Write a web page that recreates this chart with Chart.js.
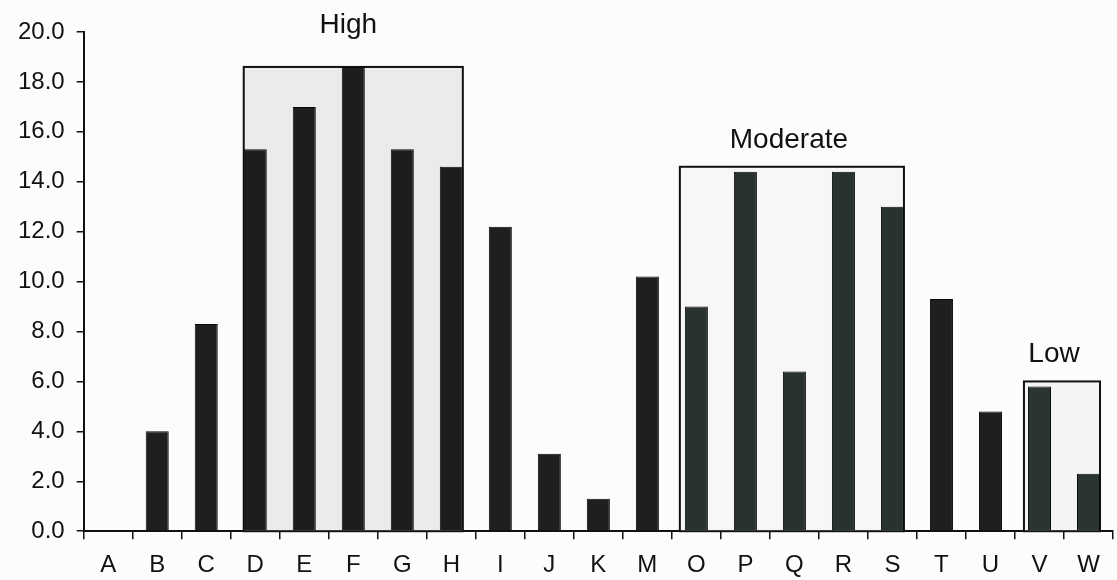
<!DOCTYPE html>
<html>
<head>
<meta charset="utf-8">
<script src="https://cdn.jsdelivr.net/npm/chart.js@4.4.1/dist/chart.umd.min.js"></script>
<style>
  html, body { margin: 0; padding: 0; background: #fcfcfc; overflow: hidden; }
  #wrap { width: 1117px; height: 580px; overflow: hidden; }
</style>
</head>
<body>
<div id="wrap"><canvas id="chart" width="1117" height="592"></canvas></div>
<script>
// Categories along the x axis and the bar value for each
const categories = ['A','B','C','D','E','F','G','H','I','J','K','M','O','P','Q','R','S','T','U','V','W'];
const values = [0, 4.0, 8.3, 15.3, 17.0, 18.6, 15.3, 14.6, 12.2, 3.1, 1.3, 10.2, 9.0, 14.4, 6.4, 14.4, 13.0, 9.3, 4.8, 5.8, 2.3];

// Value axis range and tick spacing
const yMin = 0;
const yMax = 20;
const yStep = 2;

// Outlined groups: label, first and last category, and box height
const groupLabels = ['High', 'Moderate', 'Low'];
const groupFirst = ['D', 'O', 'V'];
const groupLast = ['H', 'S', 'W'];
const groupTop = [18.6, 14.6, 6.0];

// Look of each group box
const groupStyle = [
  { fill: '#ebebeb', bar: '#1d1d1d', inset: 0, labelGap: 42, labelShift: -5 },
  { fill: '#f7f7f7', bar: '#28322e', inset: 5, labelGap: 27, labelShift: -3 },
  { fill: '#f4f4f4', bar: '#2a3430', inset: 4, labelGap: 27, labelShift: -8 }
];
const plainBar = '#1f1f1f';
const ink = '#111111';
const FONT = '"Liberation Sans", Arial, sans-serif';

// Bar colours follow group membership
const barColors = categories.map((c, i) => {
  let col = plainBar;
  groupLabels.forEach((g, k) => {
    const a = categories.indexOf(groupFirst[k]);
    const b = categories.indexOf(groupLast[k]);
    if (i >= a && i <= b) col = groupStyle[k].bar;
  });
  return col;
});

// Draws the group rectangles behind the bars and their captions above
const groupBoxes = {
  id: 'groupBoxes',
  beforeDatasetsDraw(chart) {
    const { ctx, scales: { y } } = chart;
    const bars = chart.getDatasetMeta(0).data;
    groupLabels.forEach((name, g) => {
      const st = groupStyle[g];
      const i0 = categories.indexOf(groupFirst[g]);
      const i1 = categories.indexOf(groupLast[g]);
      const left = bars[i0].x - bars[i0].width / 2 - st.inset;
      const right = bars[i1].x + bars[i1].width / 2;
      const top = y.getPixelForValue(groupTop[g]);
      const bottom = y.getPixelForValue(yMin);
      ctx.save();
      ctx.fillStyle = st.fill;
      ctx.fillRect(left, top, right - left, bottom - top);
      ctx.lineWidth = 2;
      ctx.strokeStyle = ink;
      ctx.strokeRect(left, top, right - left, bottom - top);
      ctx.fillStyle = ink;
      ctx.font = '28px ' + FONT;
      ctx.textAlign = 'center';
      ctx.textBaseline = 'middle';
      ctx.fillText(name, (left + right) / 2 + st.labelShift, top - st.labelGap);
      ctx.restore();
    });
  }
};

new Chart(document.getElementById('chart'), {
  type: 'bar',
  data: {
    labels: categories,
    datasets: [{
      data: values,
      backgroundColor: barColors,
      borderColor: '#0a0a0a',
      borderWidth: 1,
      barPercentage: 0.47,
      categoryPercentage: 1.0
    }]
  },
  plugins: [groupBoxes],
  options: {
    responsive: false,
    animation: false,
    devicePixelRatio: 1,
    layout: { padding: { top: 32, left: 6, right: 4, bottom: 0 } },
    plugins: { legend: { display: false }, tooltip: { enabled: false } },
    scales: {
      x: {
        offset: true,
        grid: { display: true, drawOnChartArea: false, drawTicks: true, tickLength: 8, color: ink, lineWidth: 1.5, offset: true },
        border: { display: true, color: ink, width: 2 },
        ticks: { color: ink, font: { family: FONT, size: 24 }, padding: 12, maxRotation: 0, autoSkip: false }
      },
      y: {
        min: yMin,
        max: yMax,
        grid: { display: true, drawOnChartArea: false, drawTicks: true, tickLength: 7, color: ink, lineWidth: 1.5 },
        border: { display: true, color: ink, width: 2 },
        ticks: {
          stepSize: yStep,
          color: ink,
          font: { family: FONT, size: 24 },
          padding: 12,
          callback: v => Number(v).toFixed(1)
        }
      }
    }
  }
});
</script>
</body>
</html>
